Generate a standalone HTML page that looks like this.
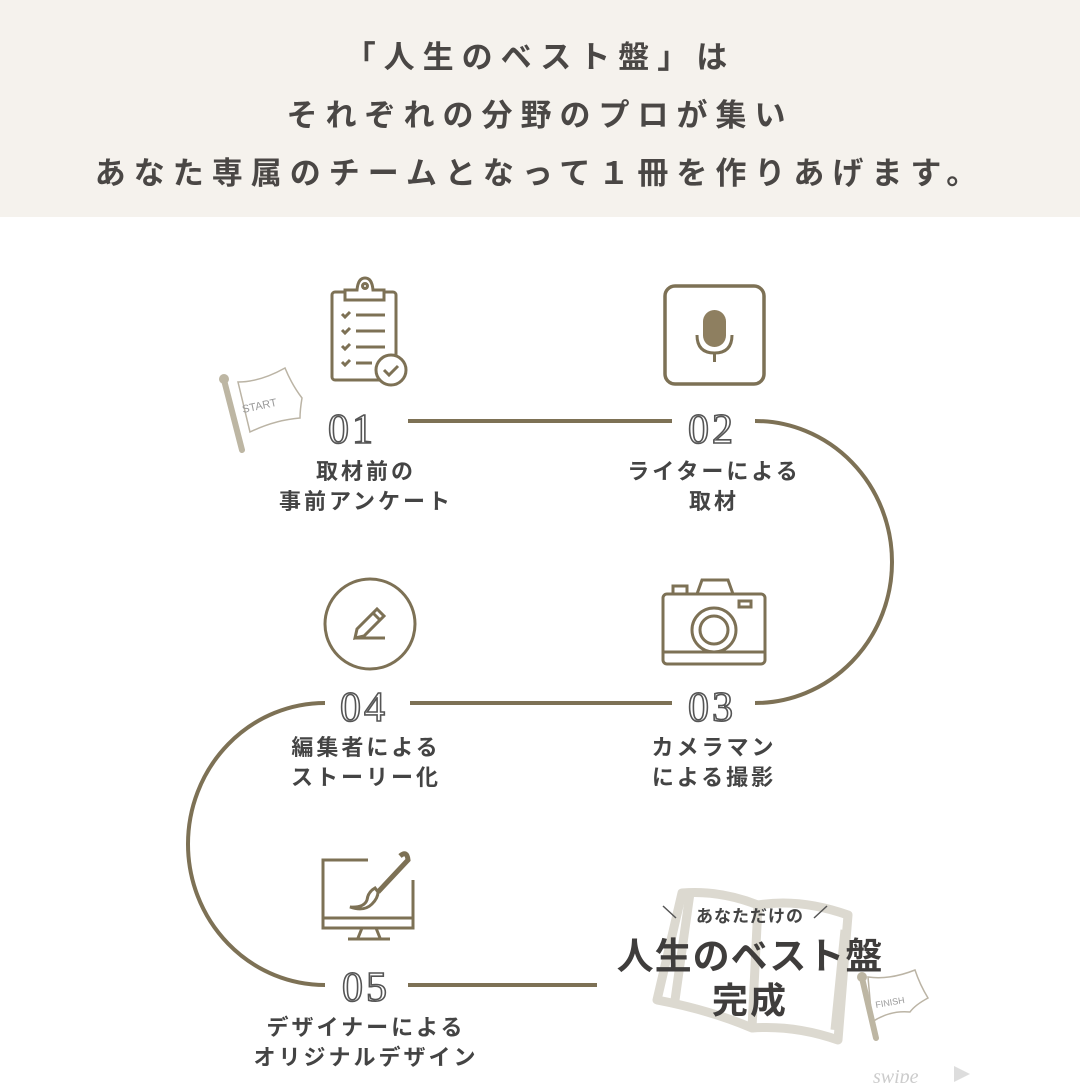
<!DOCTYPE html>
<html><head><meta charset="utf-8"><style>
html,body{margin:0;padding:0;width:1080px;height:1083px;overflow:hidden;background:#fff;font-family:"Liberation Sans","Noto Sans CJK JP",sans-serif;}
.top{position:absolute;left:0;top:0;width:1080px;height:217px;background:#f5f2ed;}
.h{position:absolute;left:0;width:1080px;text-align:center;font-size:31px;font-weight:bold;color:#4a4745;letter-spacing:8px;}
.lb{position:absolute;width:260px;text-align:center;font-size:22px;font-weight:bold;color:#444;line-height:30px;letter-spacing:3px;}
.num{position:absolute;font-family:"Liberation Serif",serif;font-size:42px;color:#fff;-webkit-text-stroke:1.6px #555;letter-spacing:3px;}
</style></head><body>
<div class="top"></div>
<div class="h" style="top:32px">「人生のベスト盤」は</div>
<div class="h" style="top:90px">それぞれの分野のプロが集い</div>
<div class="h" style="top:148px">あなた専属のチームとなって１冊を作りあげます。</div>
<svg width="1080" height="1083" style="position:absolute;left:0;top:0">
<g fill="none" stroke="#7d7155" stroke-width="4">
<path d="M408 421H672"/>
<path d="M755 421A137 141 0 0 1 755 703"/>
<path d="M410 703H672"/>
<path d="M325 703A137 141 0 0 0 325 985"/>
<path d="M408 985H597"/>
</g>
<!-- book -->
<g fill="none" stroke="#dcd9d0" stroke-width="9" stroke-linejoin="round">
<path d="M682 893Q720 890 758 905L752 1028Q710 1010 657 1000Z"/>
<path d="M758 905Q800 898 848 915L838 1040Q795 1025 752 1028"/>
<path d="M690 893L675 1000M845 930L835 1030"/>
</g>
<g stroke="#555" stroke-width="1.5"><path d="M663 906L676 918M827 906L814 918"/></g>
<!-- start flag -->
<g>
<path d="M238 382Q260 382 285 368Q292 385 302 398Q300 410 300 418Q275 420 250 432Z" fill="#fff" stroke="#bbb4a5" stroke-width="1.5"/>
<line x1="224" y1="380" x2="242" y2="450" stroke="#bdb6a3" stroke-width="6" stroke-linecap="round"/>
<circle cx="224" cy="379" r="5" fill="#bdb6a3"/>
<text x="243" y="413" font-size="11" fill="#999" font-family="Liberation Sans" transform="rotate(-12 243 413)">START</text>
</g>
<!-- finish flag -->
<g>
<path d="M868 977Q890 980 915 970Q920 985 928 998Q915 1005 910 1012Q890 1010 872 1022Z" fill="#fff" stroke="#bbb4a5" stroke-width="1.5"/>
<line x1="862" y1="978" x2="876" y2="1038" stroke="#bdb6a3" stroke-width="6" stroke-linecap="round"/>
<circle cx="862" cy="977" r="5" fill="#bdb6a3"/>
<text x="876" y="1008" font-size="9" fill="#999" font-family="Liberation Sans" transform="rotate(-10 876 1008)">FINISH</text>
</g>
<text x="873" y="1083" font-size="20" fill="#ccc" font-style="italic" font-family="Liberation Serif">swipe</text>
<path d="M954 1066L970 1074L954 1082Z" fill="#ddd"/>
<!-- clipboard -->
<g fill="none" stroke="#7d7155" stroke-width="3">
<rect x="332" y="292" width="64" height="88" rx="3"/>
<path d="M345 300V290H357Q358 278 365 278Q372 278 373 290H384V300Z" fill="#fff"/>
<circle cx="365" cy="286" r="2.5"/>
<path d="M342 314l3 3l5-5M342 330l3 3l5-5M342 346l3 3l5-5M342 362l3 3l5-5"/>
<path d="M356 315H385M356 331H385M356 347H385M356 363H372"/>
<circle cx="391" cy="370" r="15" fill="#fff"/>
<path d="M384 370l5 5l9-9"/>
</g>
<!-- mic -->
<g>
<rect x="665" y="286" width="99" height="98" rx="10" fill="none" stroke="#7d7155" stroke-width="3.5"/>
<rect x="703" y="310" width="23" height="37" rx="11.5" fill="#8e7f60"/>
<path d="M697 335Q697 353 714.5 353Q732 353 732 335" fill="none" stroke="#7d7155" stroke-width="3"/>
<path d="M714.5 353V362" stroke="#7d7155" stroke-width="3"/>
</g>
<!-- camera -->
<g fill="none" stroke="#7d7155" stroke-width="3">
<rect x="663" y="594" width="102" height="70" rx="4"/>
<path d="M697 594L702 580H728L733 594"/>
<path d="M663 652H765"/>
<circle cx="714" cy="630" r="22"/>
<circle cx="714" cy="630" r="14"/>
<rect x="673" y="586" width="14" height="8"/>
<rect x="739" y="601" width="12" height="6"/>
</g>
<!-- pencil -->
<g fill="none" stroke="#7d7155" stroke-width="3">
<circle cx="370" cy="624" r="45"/>
<path d="M355 638l2-9l20-20l7 7l-20 20z"/>
<path d="M373 613l7 7"/>
<path d="M355 638H385"/>
</g>
<!-- monitor -->
<g fill="none" stroke="#7d7155" stroke-width="3">
<path d="M368 860H323V928H413V880"/>
<path d="M323 918H413"/>
<path d="M362 928L358 938M376 928L380 938M348 939H390"/>
<path d="M400 856Q407 850 408 860L378 892" stroke-width="5"/>
<path d="M375 888Q368 892 367 900Q364 908 350 907Q364 912 372 904Q378 898 378 892Z" fill="#fff"/>
</g>
</svg>
<div class="num" style="left:328px;top:406px">01</div>
<div class="num" style="left:688px;top:406px">02</div>
<div class="num" style="left:688px;top:684px">03</div>
<div class="num" style="left:340px;top:684px">04</div>
<div class="num" style="left:342px;top:964px">05</div>
<div class="lb" style="left:236px;top:457px">取材前の<br>事前アンケート</div>
<div class="lb" style="left:584px;top:457px">ライターによる<br>取材</div>
<div class="lb" style="left:584px;top:733px">カメラマン<br>による撮影</div>
<div class="lb" style="left:236px;top:733px">編集者による<br>ストーリー化</div>
<div class="lb" style="left:226px;top:1013px;width:280px">デザイナーによる<br>オリジナルデザイン</div>
<div style="position:absolute;left:600px;width:300px;top:902px;text-align:center;font-size:17px;font-weight:bold;color:#444;letter-spacing:1px">あなただけの</div>
<div style="position:absolute;left:600px;width:300px;top:926px;text-align:center;font-size:37px;font-weight:bold;color:#3f3d3c;letter-spacing:1px">人生のベスト盤</div>
<div style="position:absolute;left:600px;width:300px;top:972px;text-align:center;font-size:36px;font-weight:bold;color:#3f3d3c;letter-spacing:2px">完成</div>
</body></html>
